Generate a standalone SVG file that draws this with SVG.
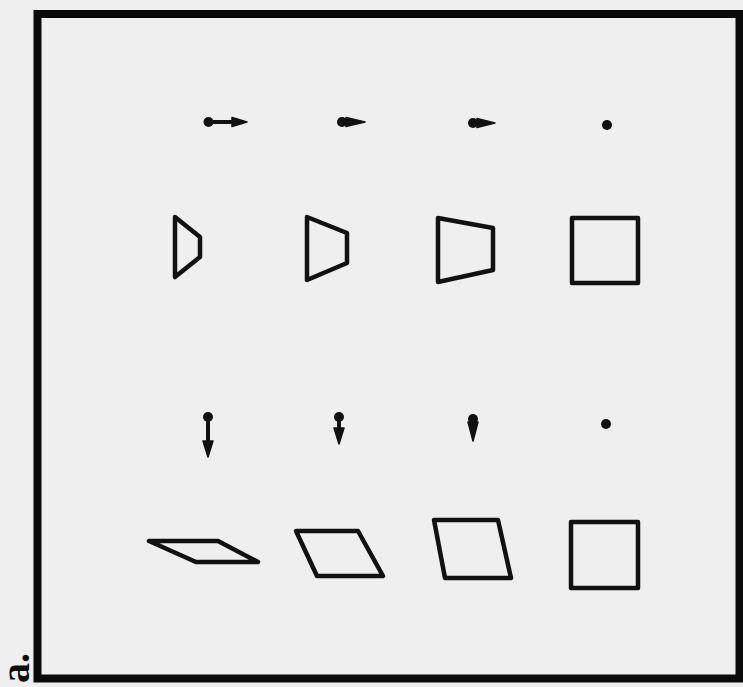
<svg xmlns="http://www.w3.org/2000/svg" width="743" height="687" viewBox="0 0 743 687">
<style>
.shape{fill:none;stroke:#111;stroke-width:4.5;stroke-linejoin:round}
.dot{fill:#111}
.line{stroke:#111;stroke-width:4}
.head{fill:#111;stroke:#111;stroke-width:1.5;stroke-linejoin:round}
</style>
<rect x="0" y="0" width="743" height="687" fill="#efefef"/>
<rect id="frame" x="37.5" y="14" width="702" height="664.5" fill="none" stroke="#0a0a0a" stroke-width="8"/>
<text x="29" y="683" transform="rotate(-90 29 683)" font-family="Liberation Serif, serif" font-weight="bold" font-size="40" fill="#0a0a0a">a.</text>
<g id="connectors">
  <g id="arrow-r1">
    <circle class="dot" cx="208.5" cy="122" r="5"/>
    <line class="line" x1="208" y1="122" x2="235" y2="122"/>
    <polygon class="head" points="232,117.5 247,122 232,126.5"/>
  </g>
  <g id="arrow-r2">
    <circle class="dot" cx="342" cy="122" r="5"/>
    <polygon class="head" points="346,117.5 365,122 346,126.5"/>
  </g>
  <g id="arrow-r3">
    <circle class="dot" cx="473" cy="123" r="5"/>
    <polygon class="head" points="477,118.5 495,123 477,127.5"/>
  </g>
  <g id="arrow-r4">
    <circle class="dot" cx="607" cy="125" r="5"/>
  </g>
  <g id="arrow-d1">
    <circle class="dot" cx="208" cy="417" r="5"/>
    <line class="line" x1="208" y1="417" x2="208" y2="444"/>
    <polygon class="head" points="203,441 213,441 208,457"/>
  </g>
  <g id="arrow-d2">
    <circle class="dot" cx="339" cy="417" r="5"/>
    <line class="line" x1="339" y1="417" x2="339" y2="431"/>
    <polygon class="head" points="334,428 344,428 339,444"/>
  </g>
  <g id="arrow-d3">
    <circle class="dot" cx="473" cy="419" r="5"/>
    <polygon class="head" points="468,422 478,422 473,441"/>
  </g>
  <g id="arrow-d4">
    <circle class="dot" cx="606" cy="424" r="5"/>
  </g>
</g>
<g id="shape-r1">
  <polygon class="shape" points="175,217 200,237 200,257 175,277"/>
</g>
<g id="shape-r2">
  <polygon class="shape" points="307,217 347,233 347,263 307,280"/>
</g>
<g id="shape-r3">
  <polygon class="shape" points="438,218 493,228 493,270 438,282"/>
</g>
<g id="shape-r4">
  <rect class="shape" x="572" y="218" width="66" height="65"/>
</g>
<g id="shape-d1">
  <polygon class="shape" points="149,541 218,541 258,562 196,562"/>
</g>
<g id="shape-d2">
  <polygon class="shape" points="296,531 358,531 383,576 317,576"/>
</g>
<g id="shape-d3">
  <polygon class="shape" points="434,520 498,520 511,578 445,578"/>
</g>
<g id="shape-d4">
  <rect class="shape" x="571" y="522" width="67" height="66"/>
</g>
</svg>
